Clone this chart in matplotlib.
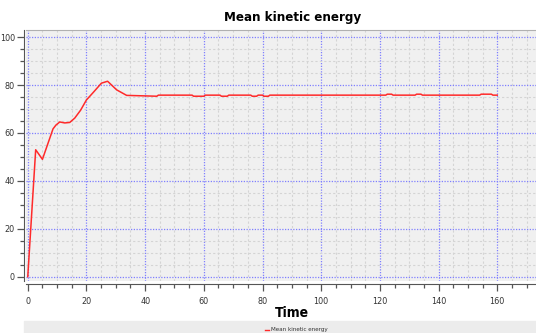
import matplotlib.pyplot as plt
from matplotlib.ticker import MultipleLocator

# Mean kinetic energy over simulation time
time = [0, 2.7, 5, 8.6, 9.6, 10.9, 12.6, 14.3, 16, 18, 20, 22.3, 25.1, 27.2, 30.3, 33.7,
        44, 44.5, 56, 56.5, 60, 60.5, 65.5, 66, 68, 68.5, 76, 76.5, 78, 78.5,
        80, 80.5, 82, 82.5, 122, 122.5, 124, 124.5, 132, 132.5, 134, 134.5,
        154, 154.5, 158, 158.5, 160]
energy = [0, 53, 49, 61.7, 63.3, 64.6, 64.2, 64.4, 66.2, 69.5, 73.8, 76.9, 80.8, 81.6, 78.0, 75.7,
          75.35, 75.8, 75.8, 75.35, 75.35, 75.8, 75.8, 75.35, 75.35, 75.8, 75.8, 75.35, 75.35, 75.8,
          75.8, 75.35, 75.35, 75.8, 75.8, 76.2, 76.2, 75.8, 75.8, 76.2, 76.2, 75.8,
          75.8, 76.2, 76.2, 75.8, 75.8]

series_name = "Mean kinetic energy"
x_label = "Time"

plt.rcParams['font.family'] = ['DejaVu Sans']
plt.rcParams['font.stretch'] = 'condensed'

fig = plt.figure(figsize=(5.36, 3.33), dpi=100)
ax = fig.add_axes([26 / 536, 52 / 333, 510 / 536, 251 / 333])
ax.set_facecolor("#f0f0f0")

ax.plot(time, energy, color="#ff2a2a", lw=1.1)

ax.set_xlim(-0.6, 173.2)
ax.set_ylim(-1.8, 103.0)

ax.xaxis.set_major_locator(MultipleLocator(20))
ax.xaxis.set_minor_locator(MultipleLocator(5))
ax.yaxis.set_major_locator(MultipleLocator(20))
ax.yaxis.set_minor_locator(MultipleLocator(5))

ax.grid(which="minor", color="#d4d4d4", ls=(0, (2, 2)), lw=0.8)
ax.grid(which="major", color="#7f7fff", ls=(0, (1, 1.2)), lw=0.9)
ax.set_axisbelow(True)

ax.spines["right"].set_visible(False)
ax.spines["top"].set_color("#b0b0b0")
ax.spines["left"].set_position(("outward", 1.5))
ax.spines["bottom"].set_position(("outward", 2.2))
ax.spines["left"].set_color("#555555")
ax.spines["bottom"].set_color("#555555")

ax.tick_params(which="major", length=5, width=0.9, color="#555555",
               labelsize=6.5, labelcolor="#333333", pad=1.5)
ax.tick_params(which="minor", length=3, width=0.9, color="#555555")
ax.tick_params(axis="x", pad=4)

# title, axis name and legend strip
fig.text(293 / 536, 1 - 17 / 333, series_name, ha="center", va="center",
         fontsize=9.5, fontweight="bold")
fig.text(292 / 536, 1 - 313 / 333, x_label, ha="center", va="center",
         fontsize=10, fontweight="bold")
fig.patches.append(plt.Rectangle((24 / 536, 0), 512 / 536, 12 / 333,
                                 transform=fig.transFigure, color="#ececec", zorder=0))
fig.lines.append(plt.Line2D([265 / 536, 269 / 536], [1 - 329.5 / 333] * 2,
                            transform=fig.transFigure, color="#ff2a2a", lw=1))
fig.text(271 / 536, 1 - 329.5 / 333, series_name, ha="left", va="center",
         fontsize=4.5, color="#333333")

fig.savefig("out.png", dpi=100)
